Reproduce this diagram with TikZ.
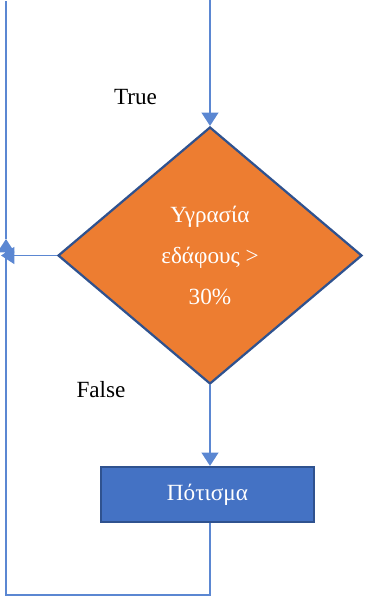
\documentclass[tikz,border=0pt]{standalone}
\usepackage{fontspec}
\setmainfont{Liberation Serif}
\usetikzlibrary{shapes.geometric,arrows.meta}

\begin{document}
\begin{tikzpicture}[
    font=\fontsize{16.5}{29}\selectfont,
    >={Triangle[length=9.5pt,width=12pt]},
    syndesi/.style={draw=linecol, line width=1.3pt},
    apofasi/.style={
        diamond,
        draw=darkblue,
        line width=1.6pt,
        fill=orange1,
        text=white,
        align=center,
        inner sep=0pt,
        minimum width=7.6cm,
        minimum height=6.425cm
    },
    energeia/.style={
        draw=darkblue,
        line width=1.6pt,
        fill=blue1,
        text=white,
        minimum width=5.325cm,
        minimum height=1.375cm
    }
]
    \definecolor{orange1}{HTML}{ED7D31}
    \definecolor{blue1}{HTML}{4472C4}
    \definecolor{darkblue}{HTML}{2F528F}
    \definecolor{linecol}{HTML}{5B87D2}
    \useasboundingbox (0,0) rectangle (9.175,-14.95);

    \node[apofasi] (ygrasia) at (5.25,-6.3875) {Υγρασία\\εδάφους >\\30\%};
    \node[energeia] (potisma) at (5.1875,-12.3625) {Πότισμα};
    \node (true) at (3.3875,-2.425) {True};
    \node (false) at (2.525,-9.75) {False};

    \coordinate (arxi) at (5.275,0);
    \coordinate (aristera) at (0.025,-6.3);
    \coordinate (pano) at (0.15,-0.025);
    \coordinate (epistrofi) at (0.15,-5.975);
    \coordinate (kato) at (0.15,-14.875);

    \draw[syndesi,->] (ygrasia.north |- arxi) -- (ygrasia.north);
    \draw[syndesi,->] (ygrasia.west) -- (aristera |- ygrasia.west);
    \draw[syndesi,->] (ygrasia.south) -- (ygrasia.south |- potisma.north);
    \draw[syndesi,->] (ygrasia.south |- potisma.south) |- (kato) -- (epistrofi);
    \draw[syndesi] (epistrofi) -- (pano);
\end{tikzpicture}
\end{document}
